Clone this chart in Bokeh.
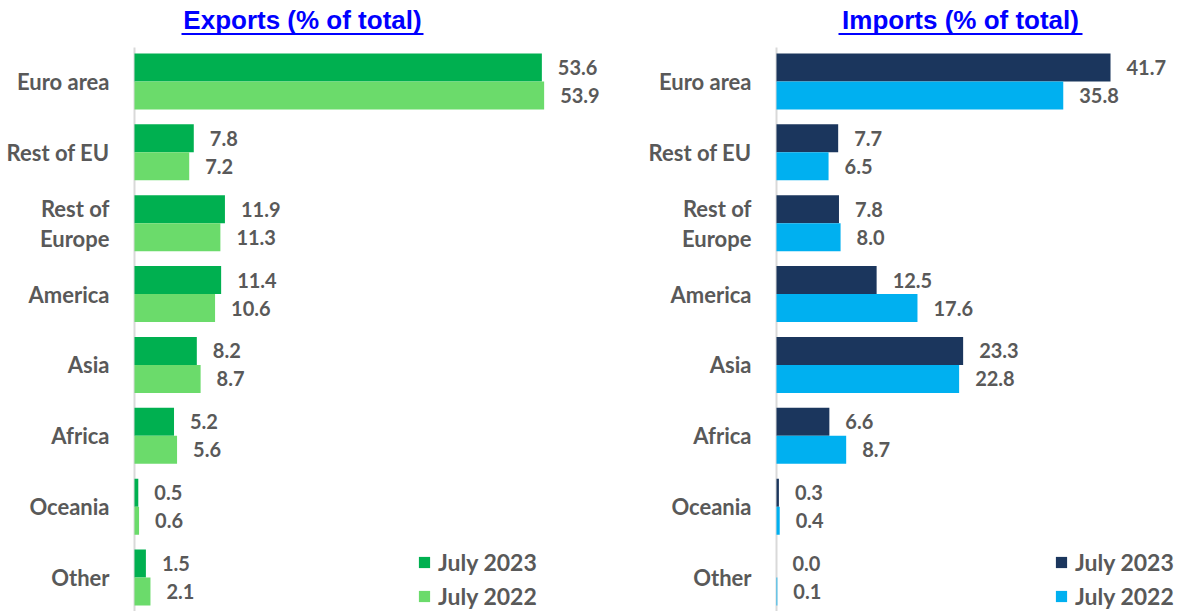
from bokeh.plotting import figure
from bokeh.layouts import row
from bokeh.models import ColumnDataSource, Range1d, FixedTicker, Label, BoxAnnotation
from bokeh.core.properties import value
from bokeh.embed import file_html
from bokeh.resources import INLINE

categories = ["Euro area", "Rest of EU", "Rest of\nEurope", "America", "Asia", "Africa", "Oceania", "Other"]
series_names = ["July 2023", "July 2022"]
exports_2023 = [53.6, 7.8, 11.9, 11.4, 8.2, 5.2, 0.5, 1.5]
exports_2022 = [53.9, 7.2, 11.3, 10.6, 8.7, 5.6, 0.6, 2.1]
imports_2023 = [41.7, 7.7, 7.8, 12.5, 23.3, 6.6, 0.3, 0.0]
imports_2022 = [35.8, 6.5, 8.0, 17.6, 22.8, 8.7, 0.4, 0.1]

GRAY = "#595959"
FONT = "Lato"
BAR_H = 0.395
PITCH = 70.86      # px per category
HEIGHT = 611
FIRST_C = 81       # px from top of first category centre
Y_TOP = -FIRST_C / PITCH
Y_BOTTOM = (HEIGHT - FIRST_C) / PITCH


def ypx(px):
    """page pixel (from top) -> data y"""
    return (px - FIRST_C) / PITCH


def make_panel(title, v23, v22, colors, width, border_left, border_right, ppu,
               title_off, title_w, legend_x):
    idx = list(range(len(categories)))
    frame_w = width - border_left - border_right
    x0 = -2 / ppu
    p = figure(width=width, height=HEIGHT, output_backend="svg", toolbar_location=None,
               x_range=Range1d(x0, x0 + frame_w / ppu), y_range=Range1d(Y_BOTTOM, Y_TOP),
               x_axis_location=None, min_border_left=border_left,
               min_border_right=border_right, min_border_top=0,
               min_border_bottom=0, background_fill_color="white", border_fill_color="white")
    p.outline_line_color = None
    p.grid.visible = False

    # axis line (starts below the title)
    p.add_layout(BoxAnnotation(left=-1 / ppu, right=1 / ppu, top=ypx(47),
                               fill_color="#D9D9D9", fill_alpha=1, line_color=None,
                               level="underlay"))

    s23 = ColumnDataSource(dict(y=[i - BAR_H / 2 for i in idx], v=v23,
                                lab=[f"{v:.1f}" for v in v23]))
    s22 = ColumnDataSource(dict(y=[i + BAR_H / 2 for i in idx], v=v22,
                                lab=[f"{v:.1f}" for v in v22]))
    p.hbar(y="y", left=0, right="v", height=BAR_H, source=s23, color=colors[0],
           line_color=None, legend_label=series_names[0])
    p.hbar(y="y", left=0, right="v", height=BAR_H, source=s22, color=colors[1],
           line_color=None, legend_label=series_names[1])
    for s in (s23, s22):
        p.text(x="v", y="y", text="lab", source=s, x_offset=16, text_baseline="middle",
               text_align="left", text_font=value(FONT), text_font_style="bold",
               text_font_size="20px", text_color=GRAY)

    ax = p.yaxis[0]
    ax.ticker = FixedTicker(ticks=idx)
    ax.major_label_overrides = {i: c for i, c in enumerate(categories)}
    ax.axis_line_color = None
    ax.major_tick_line_color = None
    ax.minor_tick_line_color = None
    ax.major_tick_out = 0
    ax.major_tick_in = 0
    ax.major_label_standoff = 23
    ax.major_label_text_font = FONT
    ax.major_label_text_font_style = "bold"
    ax.major_label_text_font_size = "22px"
    ax.major_label_text_color = GRAY
    ax.major_label_text_line_height = 1.1

    # title with underline
    cx = title_off / ppu
    p.add_layout(Label(x=cx, y=ypx(19.5), text=title, text_align="center",
                       text_baseline="alphabetic", text_font="Liberation Sans",
                       text_font_style="bold", text_font_size="26px", text_color="#0000FF"))
    half = title_w / 2 / ppu
    p.add_layout(BoxAnnotation(left=cx - half, right=cx + half,
                               top=ypx(32.5), bottom=ypx(34.5),
                               fill_color="#0000FF", fill_alpha=1, line_color=None))

    lg = p.legend[0]
    lg.location = (legend_x, 1)
    lg.border_line_color = None
    lg.background_fill_alpha = 0
    lg.padding = 0
    lg.margin = 0
    lg.spacing = 6
    lg.glyph_width = 14
    lg.glyph_height = 14
    lg.label_height = 24
    lg.label_standoff = 7
    lg.label_text_font = FONT
    lg.label_text_font_style = "bold"
    lg.label_text_font_size = "23px"
    lg.label_text_color = GRAY
    return p


p1 = make_panel("Exports (% of total)", exports_2023, exports_2022, ["#00B050", "#6BDB6B"],
                610, 132, 8, 7.6, 302 - 134, 242, 285)
p2 = make_panel("Imports (% of total)", imports_2023, imports_2022, ["#1B365D", "#00B0F0"],
                573, 164, 4, 8.01, 960 - 776, 244, 280)

layout = row(p1, p2)
open("out.html", "w").write(file_html(layout, INLINE))
